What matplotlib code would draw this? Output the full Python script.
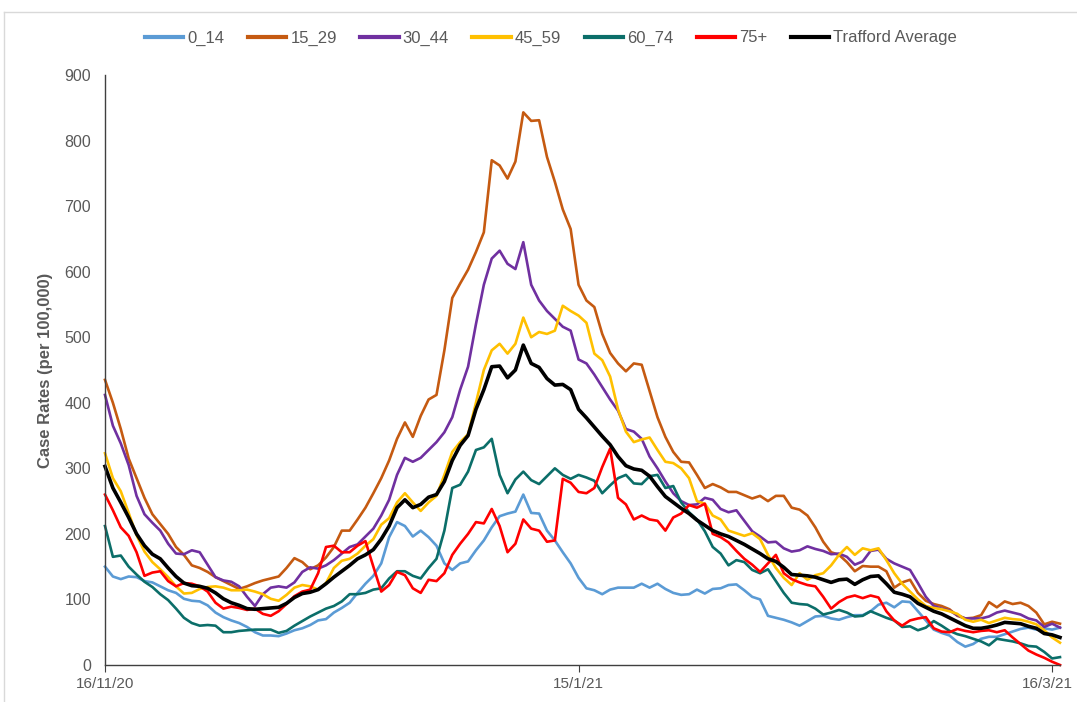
import matplotlib
matplotlib.use("Agg")
import matplotlib.pyplot as plt
import matplotlib.transforms as mtransforms
import pandas as pd

# daily case rates per 100,000, from 16/11/20
start_date = "2020-11-16"

age_0_14 = [150, 135, 131, 135, 134, 128, 126, 120, 114, 110,
            101, 98, 97, 91, 80, 73, 68, 64, 58, 50,
            45, 45, 44, 48, 53, 56, 61, 68, 70, 80,
            87, 95, 110, 124, 136, 155, 195, 218, 212, 196,
            205, 195, 182, 155, 145, 155, 158, 175, 190, 210,
            227, 231, 234, 260, 232, 231, 205, 190, 172, 155,
            133, 117, 114, 108, 115, 118, 118, 118, 124, 118,
            124, 116, 110, 107, 108, 115, 109, 116, 117, 122,
            123, 114, 104, 100, 75, 72, 69, 65, 60, 67,
            74, 75, 71, 69, 73, 76, 76, 82, 92, 95,
            88, 97, 96, 82, 68, 54, 49, 45, 35, 28,
            32, 40, 43, 43, 47, 51, 55, 57, 54, 56,
            54, 57]

age_15_29 = [435, 400, 360, 315, 285, 255, 230, 215, 200, 180,
             168, 152, 148, 142, 134, 128, 122, 116, 120, 125,
             129, 132, 135, 148, 163, 157, 146, 152, 164, 180,
             205, 205, 222, 240, 262, 285, 312, 345, 370, 348,
             380, 405, 412, 480, 560, 582, 603, 630, 660, 770,
             762, 742, 768, 843, 830, 831, 775, 737, 695, 665,
             580, 556, 546, 505, 476, 460, 448, 460, 458, 418,
             378, 348, 325, 310, 309, 290, 270, 276, 271, 264,
             264, 259, 254, 258, 250, 258, 258, 240, 237, 228,
             210, 188, 172, 168, 157, 143, 151, 150, 150, 143,
             118, 126, 130, 110, 98, 93, 90, 85, 75, 71,
             72, 76, 96, 88, 97, 93, 95, 90, 80, 62,
             66, 63]

age_30_44 = [412, 365, 338, 305, 258, 230, 217, 205, 185, 170,
             169, 175, 172, 153, 134, 129, 127, 120, 104, 90,
             108, 118, 120, 118, 126, 142, 149, 147, 152, 160,
             170, 180, 184, 196, 208, 228, 252, 290, 316, 310,
             316, 328, 340, 355, 378, 420, 455, 520, 580, 620,
             632, 612, 604, 645, 580, 556, 540, 528, 516, 510,
             466, 460, 443, 424, 405, 388, 360, 356, 345, 318,
             300, 280, 262, 250, 244, 245, 255, 252, 238, 233,
             236, 220, 204, 196, 187, 188, 178, 173, 175, 181,
             177, 174, 169, 170, 165, 153, 158, 174, 176, 162,
             155, 150, 145, 125, 104, 90, 86, 83, 76, 71,
             71, 71, 74, 80, 83, 80, 77, 71, 68, 58,
             63, 57]

age_45_59 = [323, 285, 265, 232, 198, 173, 157, 146, 134, 120,
             109, 110, 116, 119, 120, 118, 114, 114, 115, 112,
             108, 101, 98, 107, 118, 122, 120, 115, 125, 148,
             159, 162, 170, 182, 192, 214, 224, 248, 262, 248,
             235, 248, 258, 290, 325, 340, 352, 400, 450, 480,
             490, 475, 490, 530, 500, 508, 505, 510, 548, 540,
             533, 522, 475, 465, 440, 390, 356, 340, 344, 347,
             328, 310, 308, 300, 285, 250, 246, 228, 222, 205,
             201, 197, 201, 192, 168, 148, 133, 122, 140, 130,
             137, 140, 152, 168, 180, 168, 178, 175, 178, 160,
             140, 124, 112, 100, 90, 87, 85, 82, 78, 69,
             66, 69, 64, 68, 72, 70, 69, 66, 62, 53,
             42, 34]

age_60_74 = [212, 165, 167, 150, 138, 127, 119, 108, 99, 86,
             72, 64, 60, 61, 60, 50, 50, 52, 53, 54,
             54, 54, 49, 52, 60, 67, 74, 80, 86, 90,
             97, 108, 108, 110, 115, 117, 132, 143, 143, 136,
             132, 148, 162, 205, 270, 275, 295, 328, 332, 345,
             290, 262, 283, 295, 282, 276, 288, 300, 290, 284,
             290, 286, 281, 262, 274, 285, 290, 277, 276, 288,
             290, 270, 273, 248, 233, 222, 204, 180, 170, 152,
             160, 157, 145, 140, 146, 128, 110, 95, 93, 92,
             86, 77, 80, 84, 80, 74, 75, 82, 77, 72,
             68, 58, 59, 53, 57, 67, 60, 52, 47, 44,
             40, 36, 30, 40, 38, 36, 33, 29, 28, 20,
             10, 12]

age_75_plus = [260, 236, 210, 197, 172, 136, 141, 143, 128, 120,
               125, 124, 120, 112, 95, 86, 89, 87, 84, 86,
               78, 75, 82, 93, 105, 112, 115, 140, 180, 182,
               172, 172, 182, 189, 150, 112, 122, 142, 137, 117,
               110, 130, 128, 140, 168, 185, 200, 218, 216, 238,
               212, 172, 185, 222, 208, 205, 188, 190, 284, 278,
               264, 262, 270, 302, 330, 255, 245, 222, 228, 222,
               220, 205, 225, 231, 244, 240, 246, 200, 195, 187,
               174, 162, 153, 142, 155, 168, 140, 131, 126, 122,
               120, 104, 86, 96, 103, 106, 102, 106, 103, 82,
               68, 60, 68, 71, 73, 56, 51, 50, 55, 52,
               50, 52, 53, 50, 53, 42, 32, 22, 16, 11,
               5, 0]

trafford_avg = [303, 270, 248, 225, 200, 182, 169, 162, 148, 135,
                125, 121, 120, 117, 110, 101, 95, 91, 86, 85,
                86, 87, 88, 94, 103, 109, 111, 115, 124, 134,
                143, 152, 162, 168, 176, 192, 212, 240, 252, 240,
                245, 256, 260, 280, 312, 335, 350, 390, 420, 455,
                456, 438, 450, 488, 460, 454, 437, 427, 428, 420,
                390, 377, 363, 349, 336, 318, 304, 299, 297, 288,
                272, 257, 248, 239, 231, 221, 213, 205, 200, 196,
                190, 184, 177, 170, 162, 158, 149, 138, 137, 136,
                134, 130, 126, 130, 131, 123, 130, 135, 136, 124,
                111, 108, 104, 94, 88, 82, 78, 72, 66, 60,
                56, 56, 58, 61, 65, 64, 63, 59, 56, 48,
                46, 42]

series_labels = ["0_14", "15_29", "30_44", "45_59", "60_74", "75+", "Trafford Average"]
series_colors = ["#5B9BD5", "#C55A11", "#7030A0", "#FFC000", "#0B6E69", "#FF0000", "#000000"]
tick_dates = ["2020-11-16", "2021-01-15", "2021-03-16"]
tick_labels = ["16/11/20", "15/1/21", "16/3/21"]

dates = pd.date_range(start_date, periods=len(trafford_avg), freq="D")
all_series = [age_0_14, age_15_29, age_30_44, age_45_59, age_60_74, age_75_plus, trafford_avg]

plt.rcParams["font.family"] = ["Liberation Sans", "DejaVu Sans"]
fig = plt.figure(figsize=(10.77, 7.02), dpi=100)
ax = fig.add_axes([105 / 1077, 1 - 665 / 702, (1060 - 105) / 1077, (665 - 75) / 702])

for vals, lab, col in zip(all_series, series_labels, series_colors):
    lw = 2.6 if lab == "Trafford Average" else 1.9
    ax.plot(dates, vals, color=col, lw=lw, label=lab, clip_on=False)

ax.set_xlim(dates[0], dates[-1])
ax.set_ylim(0, 900)
ax.set_yticks(range(0, 901, 100))
ax.set_xticks(pd.to_datetime(tick_dates))
ax.set_xticklabels(tick_labels)

for s in ["top", "right"]:
    ax.spines[s].set_visible(False)
for s in ["left", "bottom"]:
    ax.spines[s].set_color("#404040")
    ax.spines[s].set_linewidth(1.0)
ax.tick_params(axis="y", length=0, pad=10, labelsize=11.5, labelcolor="#595959")
ax.tick_params(axis="x", length=5, direction="out", color="#404040", pad=4,
               labelsize=11, labelcolor="#595959")
# nudge the last date label so it stays inside the picture
last_lbl = ax.get_xticklabels()[-1]
last_lbl.set_transform(last_lbl.get_transform() +
                       mtransforms.ScaledTranslation(-5 / 100, 0, fig.dpi_scale_trans))

ax.set_ylabel("Case Rates (per 100,000)", fontsize=12, fontweight="bold",
              color="#595959", labelpad=8)

leg = fig.legend(loc="center", bbox_to_anchor=(551 / 1077, 1 - 38 / 702), ncol=7,
                 frameon=False, fontsize=12, handlelength=2.3, columnspacing=1.4,
                 handletextpad=0.25)
for t in leg.get_texts():
    t.set_color("#595959")
for h in leg.get_lines():
    h.set_linewidth(3)

# faint chart-area border
fig.add_artist(plt.Line2D([4 / 1077, 1], [1 - 12 / 702] * 2, transform=fig.transFigure,
                          color="#D9D9D9", lw=1))
fig.add_artist(plt.Line2D([4 / 1077] * 2, [0, 1 - 12 / 702], transform=fig.transFigure,
                          color="#D9D9D9", lw=1))

fig.savefig("out.png", dpi=100)
